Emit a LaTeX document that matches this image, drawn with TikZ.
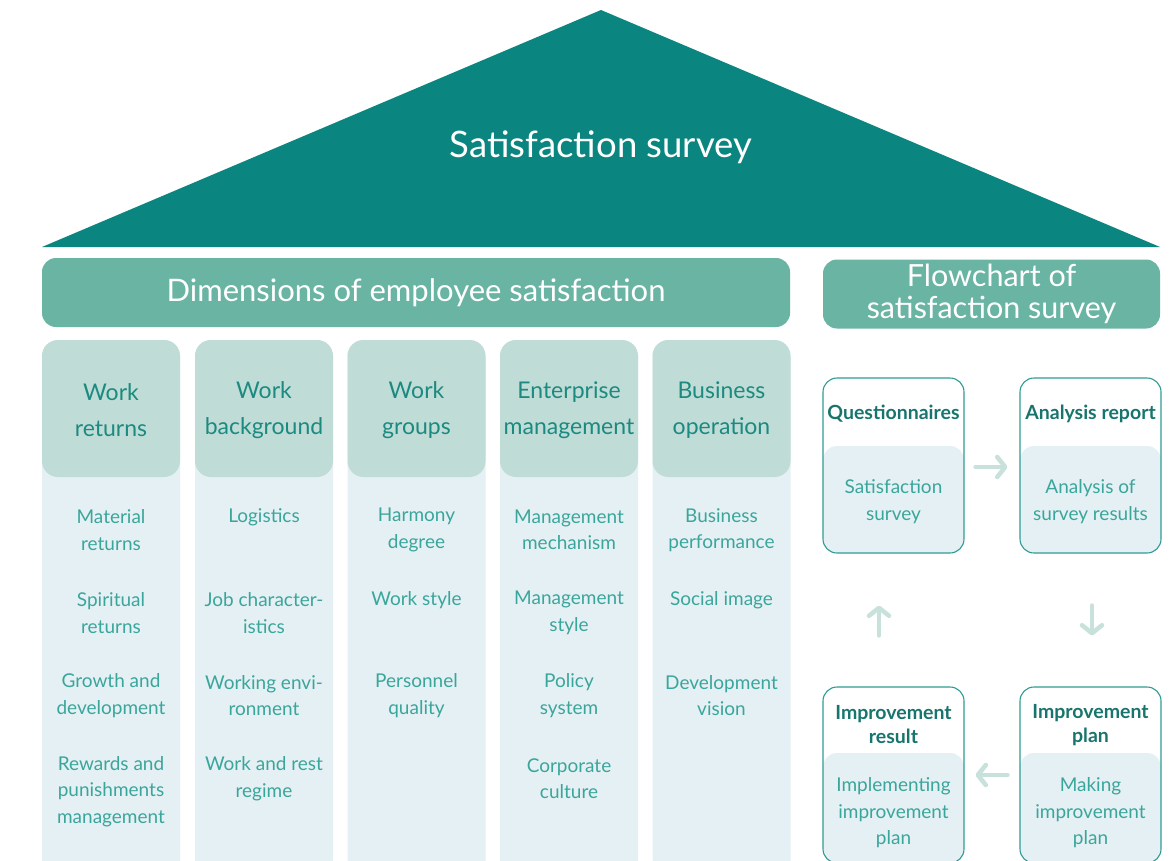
\documentclass[tikz,border=0pt]{standalone}
\usepackage{fontspec}
\setmainfont{Lato}
\usetikzlibrary{arrows.meta}
\definecolor{roofc}{HTML}{0B857F}
\definecolor{bannerc}{HTML}{6AB4A4}
\definecolor{headc}{HTML}{C0DCD6}
\definecolor{bodyc}{HTML}{E5F0F4}
\definecolor{headtxt}{HTML}{1B8A80}
\definecolor{itemtxt}{HTML}{3AA69B}
\definecolor{borderc}{HTML}{2F9C93}
\definecolor{arrowc}{HTML}{C9E1DB}
\tikzset{
  banner/.style={fill=bannerc, rounded corners=14pt, inner sep=0pt, text=white, align=center},
  colbody/.style={fill=bodyc, rounded corners=16pt, minimum width=138pt, minimum height=560pt, inner sep=0pt},
  colhead/.style={fill=headc, rounded corners=16pt, minimum width=138pt, minimum height=137pt, inner sep=0pt},
  headtext/.style={text=headtxt, align=center, inner sep=0pt, font=\fontsize{23}{36}\selectfont},
  item/.style={text=itemtxt, align=center, inner sep=0pt, font=\fontsize{19}{26.5}\selectfont},
  flowbox/.style={draw=borderc, line width=1.1pt, rounded corners=14pt, minimum width=141pt, inner sep=0pt,
    path picture={\fill[bodyc, rounded corners=14pt] ([yshift=-#1]path picture bounding box.north west)
      rectangle ([yshift=-30pt]path picture bounding box.south east);}},
  flowhead/.style={text=headtxt!85!black, align=center, inner sep=0pt, font=\fontsize{19.5}{24}\selectfont\bfseries},
  flowtext/.style={text=itemtxt, align=center, inner sep=0pt, font=\fontsize{19}{26.5}\selectfont},
  flowarrow/.style={draw=arrowc, line width=4.5pt, line cap=round,
    -{Straight Barb[length=8pt, width=20pt, line cap=round, line join=round]}}
}
\begin{document}
\begin{tikzpicture}[x=1pt,y=-1pt]
\clip (0,0) rectangle (1173,860);
\fill[white] (0,0) rectangle (1173,860);
% roof
\fill[roofc] (42,247) -- (601,10) -- (1160,247) -- cycle;
\node[text=white, font=\fontsize{36.5}{42}\selectfont] (title) at (601,147) {Satisfaction survey};
% banners
\node[banner, minimum width=748pt, minimum height=69pt, font=\fontsize{31}{34}\selectfont] (dim) at (416,292.5) {Dimensions of employee satisfaction};
\node[banner, minimum width=337pt, minimum height=69pt, font=\fontsize{30.5}{31.5}\selectfont] (flow) at (991.5,294) {Flowchart of\\satisfaction survey};
% columns
\node[colbody] (b1) at (111,620) {};
\node[colbody] (b2) at (264,620) {};
\node[colbody] (b3) at (416.5,620) {};
\node[colbody] (b4) at (569,620) {};
\node[colbody] (b5) at (721.5,620) {};
\node[colhead] (h1) at (111,408.5) {};
\node[colhead] (h2) at (264,408.5) {};
\node[colhead] (h3) at (416.5,408.5) {};
\node[colhead] (h4) at (569,408.5) {};
\node[colhead] (h5) at (721.5,408.5) {};
\node[headtext] (h1t) at (111,410.5) {Work\\returns};
\node[headtext] (h2t) at (264,410.5) {Work\\background};
\node[headtext] (h3t) at (416.5,410.5) {Work\\groups};
\node[headtext] (h4t) at (569,410.5) {Enterprise\\management};
\node[headtext] (h5t) at (721.5,410.5) {Business\\operation};
% items
\node[item] (i11) at (111,530) {Material\\returns};
\node[item] (i12) at (111,613) {Spiritual\\returns};
\node[item] (i13) at (111,695.5) {Growth and\\development};
\node[item] (i14) at (111,791.5) {Rewards and\\punishments\\management};
\node[item] (i21) at (264,517) {Logistics};
\node[item] (i22) at (264,613) {Job character-\\istics};
\node[item] (i23) at (264,695.5) {Working envi-\\ronment};
\node[item] (i24) at (264,778.5) {Work and rest\\regime};
\node[item] (i31) at (416.5,530) {Harmony\\degree};
\node[item] (i32) at (416.5,600) {Work style};
\node[item] (i33) at (416.5,695.5) {Personnel\\quality};
\node[item] (i41) at (569,530) {Management\\mechanism};
\node[item] (i42) at (569,613) {Management\\style};
\node[item] (i43) at (569,695.5) {Policy\\system};
\node[item] (i44) at (569,778.5) {Corporate\\culture};
\node[item] (i51) at (721.5,530) {Business\\performance};
\node[item] (i52) at (721.5,600) {Social image};
\node[item] (i53) at (721.5,695.5) {Development\\vision};
% flowchart boxes
\node[flowbox=68pt, minimum height=175pt] (q) at (893.5,465.5) {};
\node[flowbox=68pt, minimum height=175pt] (a) at (1090.5,465.5) {};
\node[flowbox=66pt, minimum height=176pt] (ir) at (893.5,775) {};
\node[flowbox=66pt, minimum height=176pt] (ip) at (1090.5,775) {};
\node[flowhead] (qh) at (893.5,414) {Questionnaires};
\node[flowhead] (ah) at (1090.5,414) {Analysis report};
\node[flowhead] (irh) at (893.5,725) {Improvement\\result};
\node[flowhead] (iph) at (1090.5,725) {Improvement\\plan};
\node[flowtext] (qt) at (893.5,501.5) {Satisfaction\\survey};
\node[flowtext] (at) at (1090.5,501.5) {Analysis of\\survey results};
\node[flowtext] (irt) at (893.5,813) {Implementing\\improvement\\plan};
\node[flowtext] (ipt) at (1090.5,813) {Making\\improvement\\plan};
% arrows
\draw[flowarrow, shorten <=11pt, shorten >=12pt] ([yshift=-1.5pt]q.east) -- ([yshift=-1.5pt]a.west);
\draw[flowarrow, shorten <=52pt, shorten >=51pt] ([xshift=1.5pt]a.south) -- ([xshift=1.5pt]ip.north);
\draw[flowarrow, shorten <=12pt, shorten >=11pt] (ip.west) -- (ir.east);
\draw[flowarrow, shorten <=51pt, shorten >=52pt] ([xshift=-14.5pt]ir.north) -- ([xshift=-14.5pt]q.south);
\end{tikzpicture}
\end{document}
